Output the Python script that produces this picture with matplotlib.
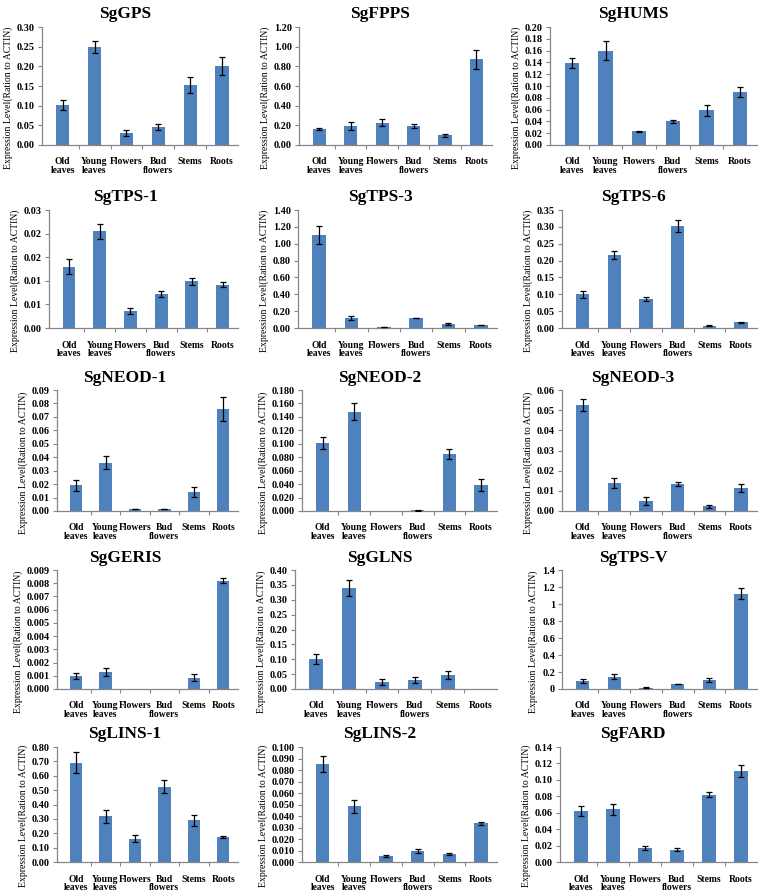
import numpy as np
import matplotlib
matplotlib.use("Agg")
from matplotlib import pyplot as plt

plt.rcParams['font.family'] = ['Liberation Serif', 'DejaVu Serif']
plt.rcParams['font.weight'] = 'bold'

tissues = ['Old\nleaves', 'Young\nleaves', 'Flowers', 'Bud\nflowers', 'Stems', 'Roots']

# mean expression and error per gene
gps_mean = [0.102, 0.249, 0.031, 0.046, 0.152, 0.201]
gps_err = [0.012, 0.015, 0.008, 0.007, 0.021, 0.024]
fpps_mean = [0.165, 0.197, 0.228, 0.196, 0.098, 0.870]
fpps_err = [0.010, 0.040, 0.035, 0.020, 0.015, 0.095]
hums_mean = [0.139, 0.160, 0.023, 0.040, 0.059, 0.090]
hums_err = [0.009, 0.016, 0.001, 0.002, 0.009, 0.009]
tps1_mean = [0.0130, 0.0205, 0.0036, 0.0072, 0.0099, 0.0092]
tps1_err = [0.0016, 0.0016, 0.0007, 0.0007, 0.0007, 0.0005]
tps3_mean = [1.105, 0.120, 0.008, 0.118, 0.045, 0.035]
tps3_err = [0.110, 0.025, 0.002, 0.004, 0.010, 0.005]
tps6_mean = [0.100, 0.217, 0.087, 0.302, 0.007, 0.017]
tps6_err = [0.010, 0.012, 0.006, 0.018, 0.001, 0.002]
neod1_mean = [0.019, 0.036, 0.0015, 0.0015, 0.014, 0.076]
neod1_err = [0.004, 0.005, 0.0003, 0.0003, 0.0035, 0.009]
neod2_mean = [0.101, 0.148, 0.0, 0.001, 0.085, 0.039]
neod2_err = [0.009, 0.013, 0.0, 0.0003, 0.007, 0.009]
neod3_mean = [0.0525, 0.014, 0.005, 0.0135, 0.0023, 0.0115]
neod3_err = [0.003, 0.0025, 0.002, 0.001, 0.0007, 0.002]
geris_mean = [0.00098, 0.00132, 0.0, 0.0, 0.00085, 0.0082]
geris_err = [0.00022, 0.0003, 0.0, 0.0, 0.00025, 0.00018]
glns_mean = [0.100, 0.340, 0.024, 0.031, 0.047, 0.0]
glns_err = [0.017, 0.028, 0.009, 0.011, 0.012, 0.0]
tpsv_mean = [0.095, 0.145, 0.015, 0.058, 0.108, 1.12]
tpsv_err = [0.020, 0.030, 0.005, 0.003, 0.020, 0.065]
lins1_mean = [0.690, 0.318, 0.163, 0.525, 0.290, 0.175]
lins1_err = [0.072, 0.045, 0.025, 0.048, 0.038, 0.005]
lins2_mean = [0.0855, 0.0485, 0.0055, 0.0095, 0.007, 0.0335]
lins2_err = [0.007, 0.0055, 0.001, 0.0015, 0.001, 0.0015]
fard_mean = [0.062, 0.064, 0.017, 0.015, 0.082, 0.111]
fard_err = [0.006, 0.007, 0.002, 0.0015, 0.003, 0.007]

# y tick labels as printed in the original
tps1_ticklabels = ['0.00', '0.01', '0.01', '0.02', '0.02', '0.03']

# title, mean, err, ymax, step, tick format
panels = [
    ('SgGPS', gps_mean, gps_err, 0.30, 0.05, '%.2f'),
    ('SgFPPS', fpps_mean, fpps_err, 1.20, 0.20, '%.2f'),
    ('SgHUMS', hums_mean, hums_err, 0.20, 0.02, '%.2f'),
    ('SgTPS-1', tps1_mean, tps1_err, 0.025, 0.005, tps1_ticklabels),
    ('SgTPS-3', tps3_mean, tps3_err, 1.40, 0.20, '%.2f'),
    ('SgTPS-6', tps6_mean, tps6_err, 0.35, 0.05, '%.2f'),
    ('SgNEOD-1', neod1_mean, neod1_err, 0.09, 0.01, '%.2f'),
    ('SgNEOD-2', neod2_mean, neod2_err, 0.18, 0.02, '%.3f'),
    ('SgNEOD-3', neod3_mean, neod3_err, 0.06, 0.01, '%.2f'),
    ('SgGERIS', geris_mean, geris_err, 0.009, 0.001, '%.3f'),
    ('SgGLNS', glns_mean, glns_err, 0.40, 0.05, '%.2f'),
    ('SgTPS-V', tpsv_mean, tpsv_err, 1.4, 0.2, '%g'),
    ('SgLINS-1', lins1_mean, lins1_err, 0.80, 0.10, '%.2f'),
    ('SgLINS-2', lins2_mean, lins2_err, 0.10, 0.01, '%.3f'),
    ('SgFARD', fard_mean, fard_err, 0.14, 0.02, '%.2f'),
]

W, H = 760, 891
fig = plt.figure(figsize=(W / 100, H / 100), dpi=100)

# layout in pixels
rows = [(27, 145), (210, 328), (390, 511), (570, 689), (747, 862)]
lefts = [[42, 299, 550], [49, 298, 562], [57, 302, 562], [57, 295, 562], [57, 302, 560]]
rights = [[238, 492, 757], [238, 497, 757], [238, 497, 757], [238, 497, 757], [238, 497, 757]]
col_centers = [125, 380, 633]

blue = '#4F81BD'
gray = '#868686'
x = np.arange(len(tissues))

for i, (title, mean, err, ymax, step, fmt) in enumerate(panels):
    r, c = divmod(i, 3)
    top, bot = rows[r]
    l, rt = lefts[r][c], rights[r][c]
    ax = fig.add_axes([l / W, 1 - bot / H, (rt - l) / W, (bot - top) / H])
    mean = np.array(mean)
    err = np.array(err)
    ax.bar(x, mean, width=0.42, color=blue, zorder=2)
    m = err > 0
    ax.errorbar(x[m], mean[m], yerr=err[m], fmt='none', ecolor='black',
                elinewidth=0.9, capsize=2.5, capthick=0.9, zorder=3)
    ax.set_xlim(-0.65, 5.5)
    ax.set_ylim(0, ymax * 1.0001)
    ticks = np.arange(0, ymax + step / 2, step)
    ax.set_yticks(ticks)
    if isinstance(fmt, list):
        ax.set_yticklabels(fmt)
    else:
        ax.set_yticklabels([fmt % t for t in ticks])
    ax.set_xticks(x)
    ax.set_xticklabels(tissues, fontsize=6.9, linespacing=0.95)
    ax.set_xticks(np.arange(0.5, 5.0, 1), minor=True)
    ax.tick_params(axis='x', which='major', length=0, pad=9)
    ax.tick_params(axis='x', which='minor', length=3, color=gray, width=0.8)
    ax.tick_params(axis='y', length=3, color=gray, width=0.8, labelsize=7.4, pad=2)
    for s in ['top', 'right']:
        ax.spines[s].set_visible(False)
    for s in ['left', 'bottom']:
        ax.spines[s].set_color(gray)
        ax.spines[s].set_linewidth(0.9)
    ax.set_ylabel('Expression Level(Ration to ACTIN)', fontsize=7.0, y=0.40, labelpad=3)
    fig.text(col_centers[c] / W, 1 - (top - 12.5) / H, title, ha='center', va='center',
             fontsize=12.5, fontweight='bold')

fig.savefig('out.png', dpi=100)
